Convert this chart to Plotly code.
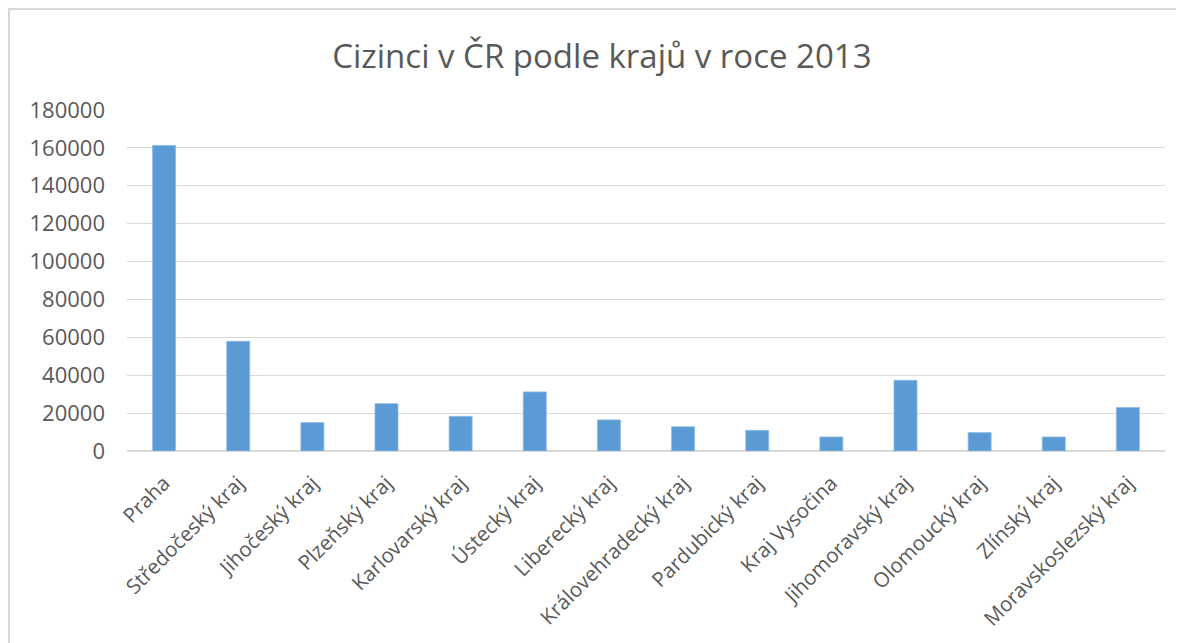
import plotly.graph_objects as go

regions = ["Praha", "Středočeský kraj", "Jihočeský kraj", "Plzeňský kraj", "Karlovarský kraj",
           "Ústecký kraj", "Liberecký kraj", "Královehradecký kraj", "Pardubický kraj",
           "Kraj Vysočina", "Jihomoravský kraj", "Olomoucký kraj", "Zlínský kraj",
           "Moravskoslezský kraj"]
foreigners = [161300, 57900, 15000, 25000, 18300, 31200, 16400, 12800, 10900,
              7400, 37300, 9700, 7400, 23000]
y_ticks = list(range(0, 180001, 20000))

# page has an 8px body margin, so the figure is sized to fit the window
W, H = 1176, 635
L, R, T, B = 119, 19, 102, 192

fig = go.Figure(go.Bar(x=regions, y=foreigners,
                       marker=dict(color="#5B9BD5", line=dict(width=0.8, color="#8CB9E3"))))

fig.update_layout(
    width=W, height=H,
    margin=dict(l=L, r=R, t=T, b=B),
    paper_bgcolor="white", plot_bgcolor="white",
    bargap=0.69,
    showlegend=False,
    font=dict(family="Open Sans", color="#595959"),
    title=dict(text="Cizinci v ČR podle krajů v roce 2013", x=0.505, xref="container",
               y=1 - 48 / H, yanchor="middle", font=dict(size=33, color="#595959")),
    xaxis=dict(tickangle=-45, tickfont=dict(size=20.5, color="#595959"), showgrid=False,
               showline=True, linecolor="#d9d9d9", linewidth=1, ticks="",
               ticklabelstandoff=11),
    yaxis=dict(range=[0, 180000], tickvals=y_ticks, tickformat="d", showgrid=True,
               gridcolor="#d9d9d9", gridwidth=1, zeroline=True, zerolinecolor="#d9d9d9",
               tickfont=dict(size=22, color="#595959"), ticks="", ticklabelstandoff=21),
)

pw = W - L - R
ph = H - T - B
fig.add_shape(type="rect", xref="paper", yref="paper",
              x0=(1 - L) / pw, x1=(W + 10 - L) / pw,
              y0=-(B + 10) / ph, y1=1 + (T - 1) / ph,
              line=dict(color="#d9d9d9", width=2), layer="below")

fig.write_html("out.html")
